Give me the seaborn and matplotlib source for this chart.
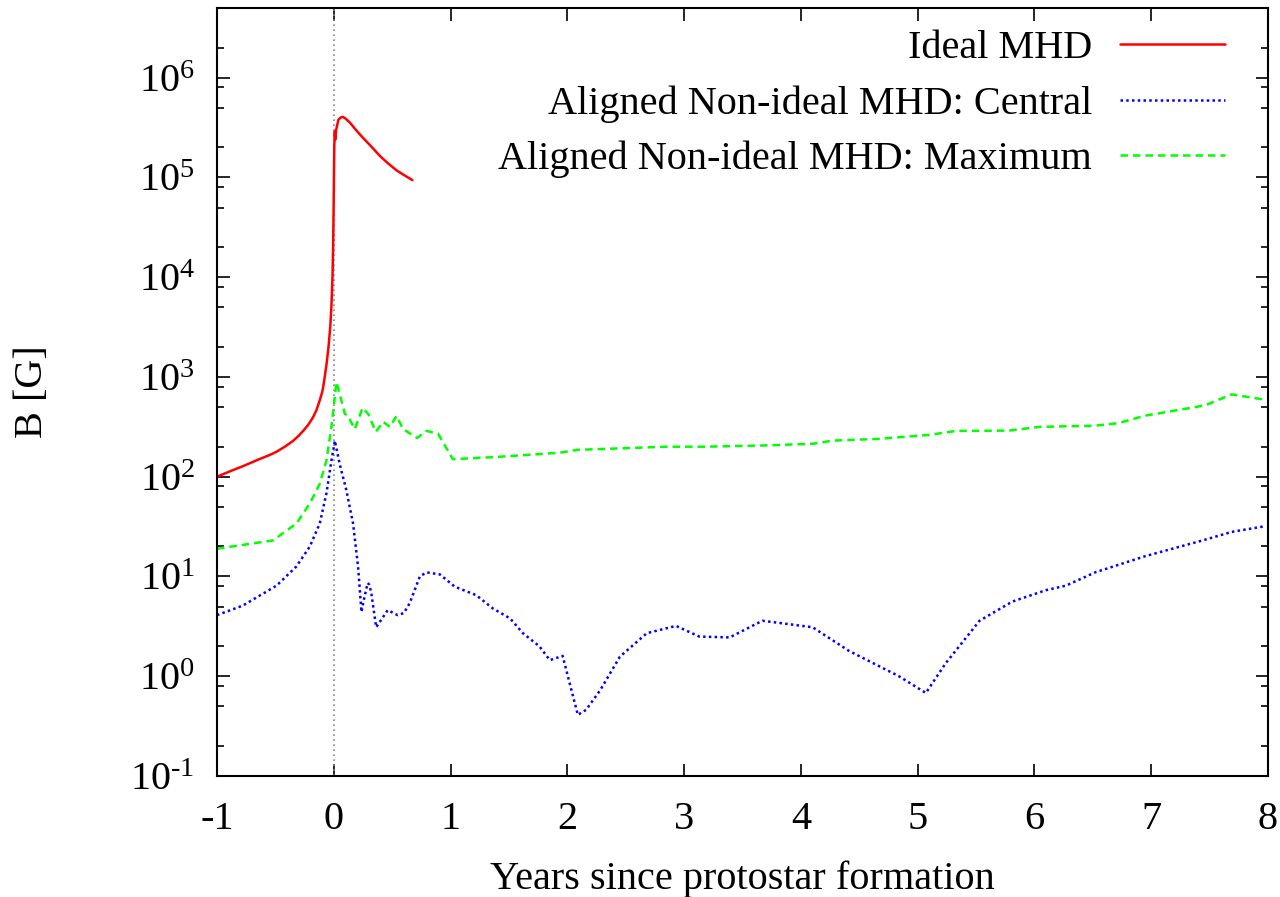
import numpy as np
import pandas as pd
import matplotlib
matplotlib.use("Agg")
import matplotlib.pyplot as plt
from matplotlib.ticker import FixedLocator, NullFormatter, FuncFormatter
import seaborn as sns

# Ideal MHD (red, solid)
ideal_t = [-1.0, -0.9, -0.775, -0.65, -0.55, -0.49, -0.42, -0.35, -0.3, -0.26, -0.22,
           -0.18, -0.15, -0.119, -0.1, -0.09, -0.075, -0.06, -0.045, -0.03, -0.02,
           -0.011, -0.005, 0.0, 0.004, 0.009, 0.013, 0.02, 0.04,
           0.06, 0.078, 0.1, 0.138, 0.2, 0.25, 0.32, 0.394, 0.46, 0.537, 0.6, 0.674]
ideal_b = [100, 112, 128, 148, 165, 178, 200, 228, 258, 290, 330,
           390, 460, 590, 700, 800, 1050, 1400, 2000, 3200, 5200,
           1.0e4, 2.2e4, 7.0e4, 2.0e5, 2.9e5, 2.4e5, 3.0e5, 3.8e5,
           4.0e5, 4.05e5, 3.9e5, 3.55e5, 2.9e5, 2.5e5, 2.05e5, 1.65e5, 1.4e5, 1.18e5, 1.06e5, 9.4e4]

# Aligned non-ideal MHD: central (blue, dotted)
central_t = [-1.0, -0.78, -0.49, -0.32, -0.205, -0.12, -0.063, -0.02, 0.009, 0.05, 0.108,
             0.165, 0.208, 0.237, 0.257, 0.29, 0.303, 0.32, 0.363, 0.462, 0.547, 0.6, 0.65,
             0.737, 0.794, 0.908, 1.036, 1.22, 1.36, 1.51, 1.62, 1.76, 1.85, 1.96, 2.02,
             2.09, 2.16, 2.28, 2.45, 2.68, 2.93, 3.13, 3.39, 3.67, 4.10, 4.41, 4.84,
             5.07, 5.24, 5.53, 5.81, 6.10, 6.27, 6.52, 6.95, 7.44, 7.69, 7.98]
central_b = [4.1, 5.1, 8.1, 12.6, 20, 34, 68, 145, 230, 135, 73,
             34, 12.6, 4.4, 5.8, 8.6, 8.3, 7.0, 3.1, 4.6, 4.1, 4.3, 5.4,
             10, 11, 10.5, 7.9, 6.5, 4.8, 3.8, 2.7, 2.0, 1.45, 1.6, 0.85,
             0.41, 0.46, 0.72, 1.57, 2.7, 3.2, 2.5, 2.45, 3.6, 3.1, 1.8, 1.0,
             0.68, 1.35, 3.6, 5.6, 7.3, 8.1, 11, 16, 23, 28, 32]

# Aligned non-ideal MHD: maximum (green, dashed)
max_t = [-1.0, -0.52, -0.32, -0.205, -0.12, -0.063, -0.02, 0.023, 0.05, 0.095, 0.12,
         0.18, 0.246, 0.295, 0.36, 0.424, 0.48, 0.537, 0.594, 0.714, 0.794, 0.893,
         1.02, 1.36, 1.93, 2.09, 2.85, 3.16, 3.70, 4.10, 4.27, 4.67, 5.10, 5.33,
         5.78, 6.04, 6.52, 6.72, 6.95, 7.46, 7.69, 7.98]
max_b = [19, 23, 34, 54, 85, 145, 316, 890, 680, 427, 410,
         300, 490, 427, 282, 355, 316, 407, 300, 245, 288, 270,
         150, 157, 174, 186, 200, 200, 206, 214, 230, 240, 263, 288,
         290, 316, 325, 345, 410, 519, 670, 590]

labels = ["Ideal MHD", "Aligned Non-ideal MHD: Central", "Aligned Non-ideal MHD: Maximum"]
colors = ["#ff0000", "#0000ff", "#00ff00"]

df = pd.concat([
    pd.DataFrame({"t": ideal_t, "B": ideal_b, "run": labels[0]}),
    pd.DataFrame({"t": central_t, "B": central_b, "run": labels[1]}),
    pd.DataFrame({"t": max_t, "B": max_b, "run": labels[2]}),
])

sns.set_style("ticks")
plt.rcParams['font.family'] = ['Liberation Serif', 'DejaVu Serif']
plt.rcParams['mathtext.fontset'] = 'custom'
plt.rcParams['mathtext.rm'] = 'Liberation Serif'
plt.rcParams['mathtext.it'] = 'Liberation Serif:italic'
plt.rcParams['axes.unicode_minus'] = False
for k in ['text.color', 'axes.labelcolor', 'xtick.color', 'ytick.color', 'axes.edgecolor']:
    plt.rcParams[k] = 'black'

fs = 29
fig = plt.figure(figsize=(12.8, 8.97), dpi=100)
ax = fig.add_axes([217/1280, 1-776/897, (1268-217)/1280, (776-8)/897])

ax.axvline(0, color="#888888", ls=(0, (1, 2)), lw=1.2, zorder=1)

dashes = {labels[0]: "", labels[1]: (1, 1.3), labels[2]: (3, 2)}
sns.lineplot(data=df, x="t", y="B", hue="run", style="run", hue_order=labels,
             palette=colors, dashes=dashes, sort=False, lw=1.8, ax=ax, legend=True)

ax.set_yscale("log")
ax.set_xlim(-1, 8)
ax.set_ylim(0.1, 5e6)
ax.set_xticks(range(-1, 9))
ax.yaxis.set_major_locator(FixedLocator([10.0**k for k in range(-1, 7)]))
ax.yaxis.set_major_formatter(FuncFormatter(
    lambda v, p: "10$^{\\mathregular{%d}}$" % int(round(np.log10(v))) if v >= 1
    else "10$^{\\text{%d}}$" % int(round(np.log10(v)))))
minors = [m * 10.0**k for k in range(-2, 7) for m in (2, 5, 8)]
ax.yaxis.set_minor_locator(FixedLocator(minors))
ax.yaxis.set_minor_formatter(NullFormatter())

ax.tick_params(which="both", direction="in", top=True, right=True, labelsize=fs, width=1.2)
ax.tick_params(which="major", length=9)
ax.tick_params(which="minor", length=5)
ax.tick_params(axis="x", which="major", pad=18)
ax.tick_params(axis="y", which="major", pad=16)
for s in ax.spines.values():
    s.set_linewidth(1.5)

ax.set_xlabel("Years since protostar formation", fontsize=fs, labelpad=16)
ax.set_ylabel("B [G]", fontsize=fs, labelpad=57)

leg = ax.legend(loc="upper right", frameon=False, fontsize=fs, markerfirst=False,
                handlelength=2.6, handletextpad=0.7, labelspacing=0.45,
                borderaxespad=0.2, bbox_to_anchor=(0.982, 1.003))
for h in leg.get_lines():
    h.set_linewidth(1.8)

fig.savefig("out.png", dpi=100)
